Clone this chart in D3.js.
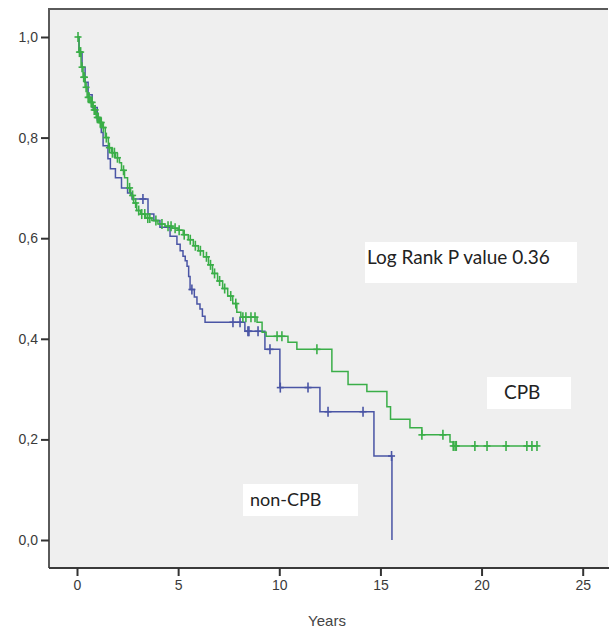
<!DOCTYPE html>
<html>
<head>
<meta charset="utf-8">
<script src="https://cdn.jsdelivr.net/npm/d3@7"></script>
<style>
  body { margin: 0; background: #fff; }
  svg text { font-family: "Liberation Sans", Arial, sans-serif; }
</style>
</head>
<body>
<svg id="chart"></svg>
<script>
// tick values
var xTicks = [0, 5, 10, 15, 20, 25];
var yTicks = [0, 0.2, 0.4, 0.6, 0.8, 1.0];

// CPB group: event steps [years, survival] and censored times
var cpbSteps = [
  [0, 1.0], [0.1, 0.97], [0.2, 0.94], [0.3, 0.92], [0.4, 0.90], [0.5, 0.88],
  [0.65, 0.87], [0.8, 0.855], [0.95, 0.84], [1.1, 0.83], [1.25, 0.82], [1.4, 0.80],
  [1.55, 0.78], [1.7, 0.77], [1.9, 0.76], [2.1, 0.75], [2.2, 0.735], [2.35, 0.72],
  [2.5, 0.70], [2.65, 0.685], [2.8, 0.67], [2.95, 0.655], [3.15, 0.648], [3.4, 0.64],
  [3.7, 0.635], [4.0, 0.628], [4.35, 0.624], [4.7, 0.62], [5.0, 0.616], [5.25, 0.607],
  [5.5, 0.597], [5.75, 0.585], [6.0, 0.575], [6.25, 0.563], [6.5, 0.547], [6.7, 0.53],
  [6.95, 0.515], [7.2, 0.50], [7.45, 0.485], [7.7, 0.47], [7.9, 0.453], [8.1, 0.443],
  [8.9, 0.433], [9.15, 0.413], [9.35, 0.405], [10.43, 0.393], [10.87, 0.379],
  [12.6, 0.335], [13.4, 0.309], [14.33, 0.295], [15.32, 0.265], [15.5, 0.24],
  [16.46, 0.223], [17.05, 0.209], [18.44, 0.195], [18.6, 0.187], [22.74, 0.187]
];
var cpbCensored = [
  0.05, 0.12, 0.18, 0.25, 0.33, 0.37, 0.45, 0.55, 0.6, 0.7, 0.75, 0.85, 0.9, 1.0,
  1.05, 1.15, 1.2, 1.3, 1.45, 1.6, 1.75, 1.85, 2.0, 2.3, 2.6, 2.75, 2.9, 3.05, 3.2,
  3.35, 3.5, 3.6, 3.9, 4.2, 4.5, 4.65, 4.85, 5.05, 5.3, 5.6, 5.85, 6.1, 6.4, 6.6,
  6.8, 7.05, 7.3, 7.6, 7.85, 8.2, 8.35, 8.6, 8.8, 9.89, 10.13, 11.86, 17.05, 18.09,
  18.6, 18.69, 18.75, 19.67, 20.27, 21.21, 22.24, 22.49, 22.74
];

// non-CPB group
var nonSteps = [
  [0, 1.0], [0.1, 0.97], [0.25, 0.94], [0.4, 0.91], [0.55, 0.885], [0.75, 0.86],
  [1.0, 0.835], [1.2, 0.81], [1.29, 0.784], [1.53, 0.758], [1.65, 0.738], [1.9, 0.72],
  [2.2, 0.70], [2.5, 0.69], [2.72, 0.678], [3.51, 0.648], [3.8, 0.635], [4.1, 0.622],
  [4.6, 0.604], [4.94, 0.588], [5.1, 0.575], [5.24, 0.564], [5.35, 0.555], [5.44, 0.544],
  [5.52, 0.524], [5.59, 0.498], [5.8, 0.483], [5.93, 0.469], [6.08, 0.459], [6.2, 0.445],
  [6.33, 0.433], [8.3, 0.415], [9.29, 0.379], [10.03, 0.303], [12.01, 0.255],
  [14.68, 0.167], [15.57, 0]
];
var nonCensored = [3.26, 5.68, 7.71, 8.06, 8.45, 8.5, 8.95, 9.54, 10.05, 11.42, 12.41, 14.14, 15.55];

var width = 609, height = 632;
var box = { left: 49, top: 9, right: 608, bottom: 568 };

var svg = d3.select("#chart")
  .attr("width", width)
  .attr("height", height);

var x = d3.scaleLinear().domain([0, 25]).range([77, 582.7]);
var y = d3.scaleLinear().domain([0, 1]).range([540, 37]);

// plot area
svg.append("rect")
  .attr("x", box.left).attr("y", box.top)
  .attr("width", box.right - box.left).attr("height", box.bottom - box.top)
  .attr("fill", "#efefef")
  .attr("stroke", "none");

svg.append("path")
  .attr("d", "M" + box.left + "," + box.bottom + "V" + box.top + "H" + box.right)
  .attr("fill", "none").attr("stroke", "#5a5a5a").attr("stroke-width", 2);
svg.append("line")
  .attr("x1", box.left).attr("x2", width)
  .attr("y1", box.bottom).attr("y2", box.bottom)
  .attr("stroke", "#3a3a3a").attr("stroke-width", 2);

// axes
var yAxis = d3.axisLeft(y).tickValues(yTicks).tickSize(8).tickPadding(3)
  .tickFormat(function (d) { return d3.format(".1f")(d).replace(".", ","); });
var gy = svg.append("g").attr("transform", "translate(" + box.left + ",0)").call(yAxis);
gy.select(".domain").remove();

var xAxis = d3.axisBottom(x).tickValues(xTicks).tickSize(8).tickPadding(4);
var gx = svg.append("g").attr("transform", "translate(0," + box.bottom + ")").call(xAxis);
gx.select(".domain").remove();

svg.selectAll(".tick line").attr("stroke", "#333").attr("stroke-width", 2);
svg.selectAll(".tick text").attr("fill", "#3a3a3a").style("font-size", "14px");

svg.append("text")
  .attr("x", 327).attr("y", 626)
  .attr("text-anchor", "middle")
  .attr("fill", "#444")
  .style("font-size", "15px")
  .text("Years");

// survival curves
var line = d3.line()
  .x(function (d) { return x(d[0]); })
  .y(function (d) { return y(d[1]); })
  .curve(d3.curveStepAfter);

function survAt(steps, t) {
  var s = steps[0][1];
  for (var i = 0; i < steps.length; i++) {
    if (steps[i][0] <= t) s = steps[i][1];
  }
  return s;
}

function drawGroup(steps, censored, color) {
  svg.append("path")
    .datum(steps)
    .attr("d", line)
    .attr("fill", "none")
    .attr("stroke", color)
    .attr("stroke-width", 1.5);

  var marks = svg.append("g").selectAll("g")
    .data(censored)
    .enter().append("g")
    .attr("transform", function (d) {
      return "translate(" + x(d) + "," + y(survAt(steps, d)) + ")";
    });
  marks.append("line")
    .attr("x1", 0).attr("x2", 0).attr("y1", -5).attr("y2", 5)
    .attr("stroke", color).attr("stroke-width", 1.6);
  marks.append("line")
    .attr("x1", -3.5).attr("x2", 3.5).attr("y1", 0).attr("y2", 0)
    .attr("stroke", color).attr("stroke-width", 1.6);
}

drawGroup(nonSteps, nonCensored, "#4a55a5");
drawGroup(cpbSteps, cpbCensored, "#3aae48");

// annotations
var notes = [
  { text: "Log Rank P value 0.36", x0: 365, y0: 242, w: 212, h: 41, tx: 367, ty: 264, size: 19 },
  { text: "CPB", x0: 487, y0: 377, w: 84, h: 32, tx: 504, ty: 399, size: 19 },
  { text: "non-CPB", x0: 243, y0: 484, w: 115, h: 32, tx: 250, ty: 506, size: 18 }
];
var ann = svg.append("g").selectAll("g").data(notes).enter().append("g");
ann.append("rect")
  .attr("x", function (d) { return d.x0; })
  .attr("y", function (d) { return d.y0; })
  .attr("width", function (d) { return d.w; })
  .attr("height", function (d) { return d.h; })
  .attr("fill", "#fff");
ann.append("text")
  .attr("x", function (d) { return d.tx; })
  .attr("y", function (d) { return d.ty; })
  .attr("fill", "#222")
  .style("font-family", "Lato, 'Open Sans', sans-serif")
  .style("font-size", function (d) { return d.size + "px"; })
  .text(function (d) { return d.text; });
</script>
</body>
</html>
